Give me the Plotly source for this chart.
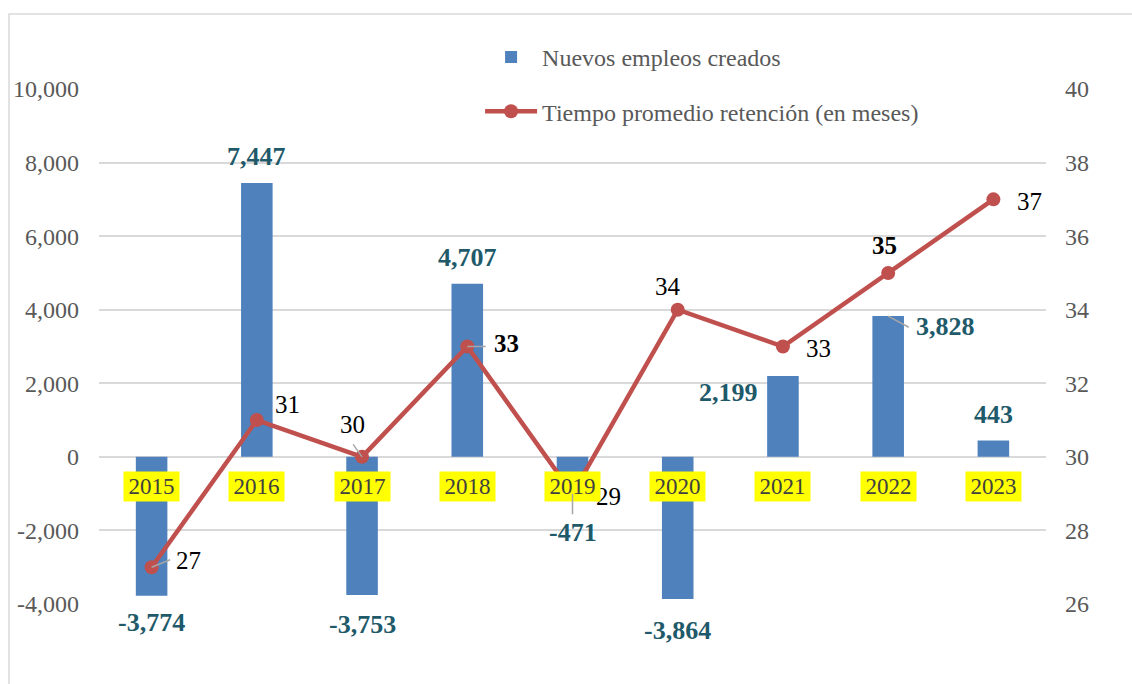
import plotly.graph_objects as go

years = ["2015", "2016", "2017", "2018", "2019", "2020", "2021", "2022", "2023"]
empleos = [-3774, 7447, -3753, 4707, -471, -3864, 2199, 3828, 443]
retencion = [27, 31, 30, 33, 29, 34, 33, 35, 37]

left_ticks = [-4000, -2000, 0, 2000, 4000, 6000, 8000, 10000]
left_ticktext = ["-4,000", "-2,000", "0", "2,000", "4,000", "6,000", "8,000", "10,000"]
right_ticks = [26, 28, 30, 32, 34, 36, 38, 40]

bar_name = "Nuevos empleos creados"
line_name = "Tiempo promedio retención (en meses)"

# label offsets (pixels) for data labels
bar_shift = [(0, -27), (0, 26), (0, -30), (0, 26), (0, -58), (0, -31), (-54, -17), (57, -10), (0, 26)]
line_shift = [(37, 7), (31, 16), (-10, 32), (39, 3), (36, -3), (-10, 23), (36, -2), (-4, 27), (36, -2)]
line_bold = [False, False, False, True, False, False, False, True, False]

SERIF = "Liberation Serif, Times New Roman, serif"
BAR_C = "#4F81BD"
LINE_C = "#C0504D"
LBL_C = "#1F5A6A"
GRID_C = "#D9D9D9"
TICK_C = "#595959"

fig = go.Figure()
fig.add_trace(go.Bar(
    x=years, y=empleos, name=bar_name, marker=dict(color=BAR_C, line=dict(width=0)),
    yaxis="y", legendgroup="a",
))
fig.add_trace(go.Scatter(
    x=years, y=retencion, name=line_name, mode="lines+markers",
    line=dict(color=LINE_C, width=4.5), marker=dict(color=LINE_C, size=14),
    yaxis="y2", legendgroup="b",
))

ann = []
for i, (v, (dx, dy)) in enumerate(zip(empleos, bar_shift)):
    ann.append(dict(x=i, y=v, xref="x", yref="y", text=f"<b>{v:,}</b>", showarrow=False,
                    xshift=dx, yshift=dy, font=dict(family=SERIF, size=26, color=LBL_C)))
for i, (v, (dx, dy), b) in enumerate(zip(retencion, line_shift, line_bold)):
    t = f"<b>{v}</b>" if b else f"{v}"
    ann.append(dict(x=i, y=v, xref="x", yref="y2", text=t, showarrow=False,
                    xshift=dx, yshift=dy, font=dict(family=SERIF, size=25, color="#000000")))
for i, yr in enumerate(years):
    ann.append(dict(x=i, y=0, xref="x", yref="y", text=yr, showarrow=False, yshift=-30,
                    bgcolor="#FFFF00", width=55, height=29, borderpad=0,
                    font=dict(family=SERIF, size=23, color="#404040")))

# small leader lines
leaders = [(0, "y2", 27, 20, -8), (2, "y2", 30, -10, -14), (3, "y2", 33, 20, 0),
           (4, "y2", 29, 0, 22), (7, "y", 3828, 22, 12)]
for i, ref, v, ax, ay in leaders:
    ann.append(dict(x=i, y=v, xref="x", yref=ref, text="", showarrow=True,
                    arrowhead=0, arrowwidth=1.5, arrowcolor="#A6A6A6", ax=ax, ay=ay, standoff=0))

fig.update_layout(
    width=1132, height=684,
    margin=dict(l=99, r=86, t=89, b=80, autoexpand=False),
    paper_bgcolor="white", plot_bgcolor="white",
    bargap=0.7,
    font=dict(family=SERIF, size=22, color=TICK_C),
    xaxis=dict(type="category", categoryorder="array", categoryarray=years,
               autotypenumbers="strict", range=[-0.5, len(years) - 0.5],
               showticklabels=False, showgrid=False, zeroline=False, showline=False, ticks=""),
    yaxis=dict(range=[-4000, 10000], tickvals=left_ticks, ticktext=left_ticktext,
               showgrid=True, gridcolor=GRID_C,
               gridwidth=1.5, zeroline=False, showline=False, ticks="",
               tickfont=dict(family=SERIF, size=24, color=TICK_C), ticklabelstandoff=19),
    yaxis2=dict(range=[26, 40], tickvals=right_ticks, overlaying="y", side="right", showgrid=False,
                zeroline=False, showline=False, ticks="",
                tickfont=dict(family=SERIF, size=24, color=TICK_C), ticklabelstandoff=18),
    legend=dict(x=0.4024, y=1.105, xanchor="left", yanchor="top", bgcolor="rgba(0,0,0,0)",
                traceorder="grouped", tracegroupgap=20, itemwidth=52,
                font=dict(family=SERIF, size=24, color=TICK_C)),
    annotations=ann,
    shapes=[dict(type="rect", xref="paper", yref="paper", x0=-0.095, x1=1.2, y0=-0.3, y1=1.1456,
                 line=dict(color=GRID_C, width=1.5), fillcolor="rgba(0,0,0,0)", layer="below")],
    showlegend=True,
)

fig.write_html("out.html", config={"displayModeBar": False},
               post_script="document.body.style.margin='0';document.body.style.padding='0';")
